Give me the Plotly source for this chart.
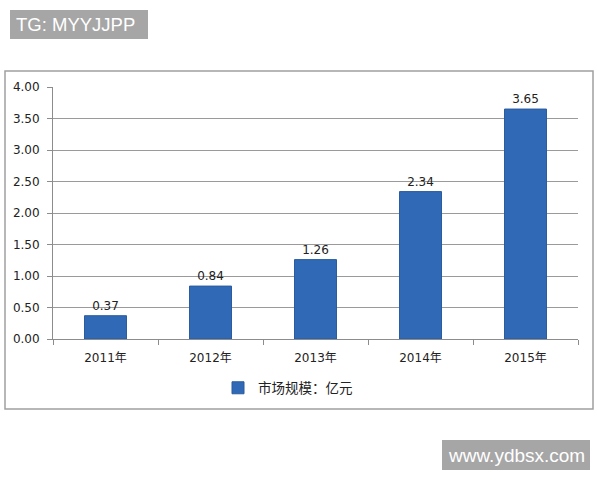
import plotly.graph_objects as go

years = ["2011年", "2012年", "2013年", "2014年", "2015年"]
values = [0.37, 0.84, 1.26, 2.34, 3.65]
series_name = "市场规模：亿元"
y_ticks = [0, 0.5, 1.0, 1.5, 2.0, 2.5, 3.0, 3.5, 4.0]

W, H = 600, 480
L, R, T, B = 53, 578, 87, 339

def px(x):
    return (x - L) / (R - L)

def py(y):
    return (B - y) / (B - T)

font_main = "DejaVu Sans, Noto Sans CJK SC, sans-serif"

fig = go.Figure()
fig.add_trace(go.Bar(
    x=years, y=values, name=series_name,
    marker=dict(color="#3069B5", line=dict(color="#2A5C9E", width=1)),
    width=0.4,
    text=[f"{v:.2f}" for v in values],
    textposition="outside",
    textfont=dict(size=12, color="#222222", family=font_main),
    cliponaxis=False,
    showlegend=True,
))

fig.update_layout(
    width=W, height=H,
    margin=dict(l=L, r=W - R, t=T, b=H - B),
    paper_bgcolor="white", plot_bgcolor="white",
    font=dict(family=font_main, size=12, color="#222222"),
    showlegend=True,
    legend=dict(orientation="h", x=px(218), xanchor="left", y=py(388), yanchor="middle",
                font=dict(size=13.5, family="Noto Sans CJK SC, sans-serif", color="#222222"),
                bgcolor="rgba(0,0,0,0)"),
    xaxis=dict(showline=True, linecolor="#8C8C8C", linewidth=1, ticks="outside",
               tickson="boundaries", ticklen=5, tickcolor="#8C8C8C", showgrid=False,
               ticklabelstandoff=8, automargin=False,
               tickfont=dict(size=12, color="#222222")),
    yaxis=dict(range=[0, 4], tickvals=y_ticks, tickformat=".2f", showline=True,
               linecolor="#8C8C8C", linewidth=1, ticks="outside", ticklen=5,
               tickcolor="#8C8C8C", gridcolor="#9A9A9A", gridwidth=1,
               ticklabelstandoff=5, automargin=False,
               tickfont=dict(size=12, color="#222222"), zeroline=False),
)

# outer chart frame
fig.add_shape(type="rect", xref="paper", yref="paper",
              x0=px(5), x1=px(593), y0=py(409), y1=py(71),
              line=dict(color="#A0A0A0", width=1.5), fillcolor="rgba(0,0,0,0)", layer="below")

# watermark boxes
fig.add_shape(type="rect", xref="paper", yref="paper",
              x0=px(10), x1=px(148), y0=py(39), y1=py(10),
              line=dict(width=0), fillcolor="#A6A6A6")
fig.add_annotation(xref="paper", yref="paper", x=px(14), y=py(24.5), xanchor="left", yanchor="middle",
                   text="TG: MYYJJPP", showarrow=False,
                   font=dict(size=18.5, color="white", family="Liberation Sans, Arial, sans-serif"))
fig.add_shape(type="rect", xref="paper", yref="paper",
              x0=px(442), x1=px(590), y0=py(470), y1=py(440),
              line=dict(width=0), fillcolor="#A6A6A6")
fig.add_annotation(xref="paper", yref="paper", x=px(446), y=py(455), xanchor="left", yanchor="middle",
                   text="www.ydbsx.com", showarrow=False,
                   font=dict(size=19, color="white", family="Liberation Sans, Arial, sans-serif"))

fig.write_html("out.html",
               config={"displayModeBar": False},
               post_script="document.body.style.margin='0';document.body.style.overflow='hidden';")
